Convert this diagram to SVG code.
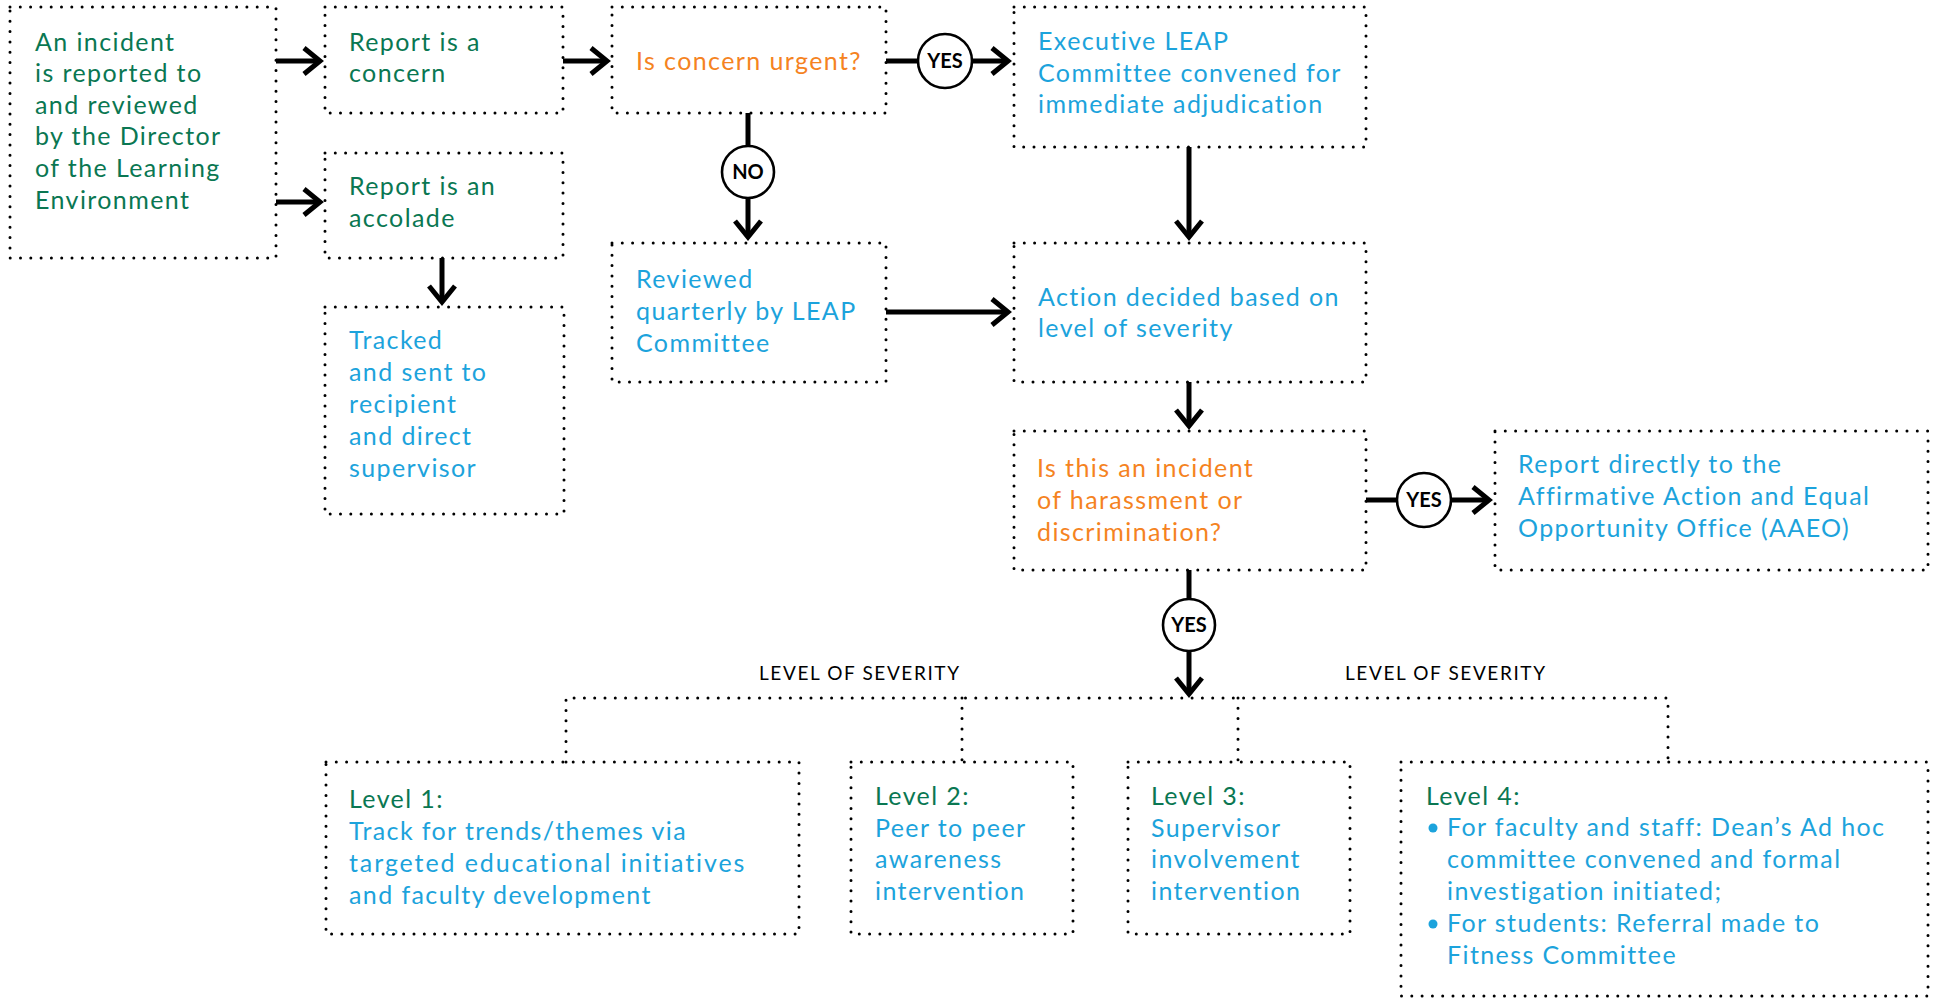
<svg xmlns="http://www.w3.org/2000/svg" width="1940" height="998" viewBox="0 0 1940 998">
<defs>
<style>
.box{fill:none;stroke:#000;stroke-width:3;stroke-dasharray:0 10.3;stroke-linecap:round}
.t{font-family:Lato,'Open Sans',sans-serif;font-size:25px;letter-spacing:1.4px}
.g{fill:#0a7752}
.o{fill:#f5831f}
.b{fill:#1ca3dc}
.c{fill:none;stroke:#000;stroke-width:5}
.ring{fill:#fff;stroke:#000;stroke-width:2.6}
.lab{font-family:Lato,'Open Sans',sans-serif;font-size:20px;font-weight:bold;fill:#000;text-anchor:middle}
.sev{font-family:Lato,'Open Sans',sans-serif;font-size:19px;letter-spacing:1.6px;fill:#000}
</style>
<marker id="ah" markerUnits="userSpaceOnUse" viewBox="-20 -17 24 34" markerWidth="24" markerHeight="34" refX="0" refY="0" orient="auto">
<path d="M-16,-13 L0,0 L-16,13" fill="none" stroke="#000" stroke-width="5"/>
</marker>
</defs>
<rect width="1940" height="998" fill="#fff"/>

<g id="connectors">
<line class="c" x1="276" y1="61" x2="320" y2="61" marker-end="url(#ah)"/>
<line class="c" x1="276" y1="202" x2="320" y2="202" marker-end="url(#ah)"/>
<line class="c" x1="563" y1="61" x2="607" y2="61" marker-end="url(#ah)"/>
<line class="c" x1="886" y1="61" x2="918" y2="61"/>
<line class="c" x1="972" y1="61" x2="1008" y2="61" marker-end="url(#ah)"/>
<line class="c" x1="748" y1="113" x2="748" y2="146"/>
<line class="c" x1="748" y1="198" x2="748" y2="237" marker-end="url(#ah)"/>
<line class="c" x1="442" y1="258" x2="442" y2="302" marker-end="url(#ah)"/>
<line class="c" x1="886" y1="312" x2="1008" y2="312" marker-end="url(#ah)"/>
<line class="c" x1="1189" y1="147" x2="1189" y2="237" marker-end="url(#ah)"/>
<line class="c" x1="1189" y1="382" x2="1189" y2="426" marker-end="url(#ah)"/>
<line class="c" x1="1366" y1="500" x2="1397" y2="500"/>
<line class="c" x1="1451" y1="500" x2="1489" y2="500" marker-end="url(#ah)"/>
<line class="c" x1="1189" y1="570" x2="1189" y2="599"/>
<line class="c" x1="1189" y1="651" x2="1189" y2="694" marker-end="url(#ah)"/>
<path class="box" d="M566,762 V698 H1668 V762 M962,698 V762 M1238,698 V762"/>
<g id="yes1"><circle class="ring" cx="945" cy="61" r="27"/><text class="lab" x="945" y="68">YES</text></g>
<g id="no1"><circle class="ring" cx="748" cy="172" r="26"/><text class="lab" x="748" y="179">NO</text></g>
<g id="yes2"><circle class="ring" cx="1424" cy="500" r="27"/><text class="lab" x="1424" y="507">YES</text></g>
<g id="yes3"><circle class="ring" cx="1189" cy="625" r="26"/><text class="lab" x="1189" y="632">YES</text></g>
<text class="sev" x="759" y="680">LEVEL OF SEVERITY</text>
<text class="sev" x="1345" y="680">LEVEL OF SEVERITY</text>
</g>

<g id="n-incident">
<rect class="box" x="10" y="7" width="266" height="251"/>
<text class="t g"><tspan x="35" y="51">An incident</tspan><tspan x="35" y="82">is reported to</tspan><tspan x="35" y="114">and reviewed</tspan><tspan x="35" y="145">by the Director</tspan><tspan x="35" y="177">of the Learning</tspan><tspan x="35" y="209">Environment</tspan></text>
</g>
<g id="n-concern">
<rect class="box" x="325" y="7" width="238" height="106"/>
<text class="t g"><tspan x="349" y="51">Report is a</tspan><tspan x="349" y="82">concern</tspan></text>
</g>
<g id="n-accolade">
<rect class="box" x="325" y="153" width="238" height="105"/>
<text class="t g"><tspan x="349" y="195">Report is an</tspan><tspan x="349" y="227">accolade</tspan></text>
</g>
<g id="n-tracked">
<rect class="box" x="325" y="307" width="239" height="207"/>
<text class="t b"><tspan x="349" y="349">Tracked</tspan><tspan x="349" y="381">and sent to</tspan><tspan x="349" y="413">recipient</tspan><tspan x="349" y="445">and direct</tspan><tspan x="349" y="477">supervisor</tspan></text>
</g>
<g id="n-urgent">
<rect class="box" x="612" y="7" width="274" height="106"/>
<text class="t o" x="636" y="70">Is concern urgent?</text>
</g>
<g id="n-reviewed">
<rect class="box" x="612" y="243" width="274" height="139"/>
<text class="t b"><tspan x="636" y="288">Reviewed</tspan><tspan x="636" y="320">quarterly by LEAP</tspan><tspan x="636" y="352">Committee</tspan></text>
</g>
<g id="n-executive">
<rect class="box" x="1014" y="7" width="352" height="140"/>
<text class="t b"><tspan x="1038" y="50">Executive LEAP</tspan><tspan x="1038" y="82">Committee convened for</tspan><tspan x="1038" y="113">immediate adjudication</tspan></text>
</g>
<g id="n-action">
<rect class="box" x="1014" y="243" width="352" height="139"/>
<text class="t b"><tspan x="1038" y="306">Action decided based on</tspan><tspan x="1038" y="337">level of severity</tspan></text>
</g>
<g id="n-harassment">
<rect class="box" x="1014" y="431" width="352" height="139"/>
<text class="t o"><tspan x="1037" y="477">Is this an incident</tspan><tspan x="1037" y="509">of harassment or</tspan><tspan x="1037" y="541">discrimination?</tspan></text>
</g>
<g id="n-aaeo">
<rect class="box" x="1495" y="431" width="433" height="139"/>
<text class="t b"><tspan x="1518" y="473">Report directly to the</tspan><tspan x="1518" y="505">Affirmative Action and Equal</tspan><tspan x="1518" y="537">Opportunity Office (AAEO)</tspan></text>
</g>
<g id="n-level1">
<rect class="box" x="326" y="762" width="473" height="172"/>
<text class="t"><tspan class="g" x="349" y="808">Level 1:</tspan><tspan class="b" x="349" y="840">Track for trends/themes via</tspan><tspan class="b" x="349" y="872" style="letter-spacing:1.9px">targeted educational initiatives</tspan><tspan class="b" x="349" y="904">and faculty development</tspan></text>
</g>
<g id="n-level2">
<rect class="box" x="851" y="762" width="222" height="172"/>
<text class="t"><tspan class="g" x="875" y="805">Level 2:</tspan><tspan class="b" x="875" y="837">Peer to peer</tspan><tspan class="b" x="875" y="868">awareness</tspan><tspan class="b" x="875" y="900">intervention</tspan></text>
</g>
<g id="n-level3">
<rect class="box" x="1128" y="762" width="222" height="172"/>
<text class="t"><tspan class="g" x="1151" y="805">Level 3:</tspan><tspan class="b" x="1151" y="837">Supervisor</tspan><tspan class="b" x="1151" y="868">involvement</tspan><tspan class="b" x="1151" y="900">intervention</tspan></text>
</g>
<g id="n-level4">
<rect class="box" x="1401" y="762" width="527" height="234"/>
<circle class="b" cx="1433" cy="828" r="4.5"/>
<circle class="b" cx="1433" cy="924" r="4.5"/>
<text class="t"><tspan class="g" x="1426" y="805">Level 4:</tspan><tspan class="b" x="1447" y="836">For faculty and staff: Dean’s Ad hoc</tspan><tspan class="b" x="1447" y="868">committee convened and formal</tspan><tspan class="b" x="1447" y="900">investigation initiated;</tspan><tspan class="b" x="1447" y="932">For students: Referral made to</tspan><tspan class="b" x="1447" y="964">Fitness Committee</tspan></text>
</g>
</svg>
